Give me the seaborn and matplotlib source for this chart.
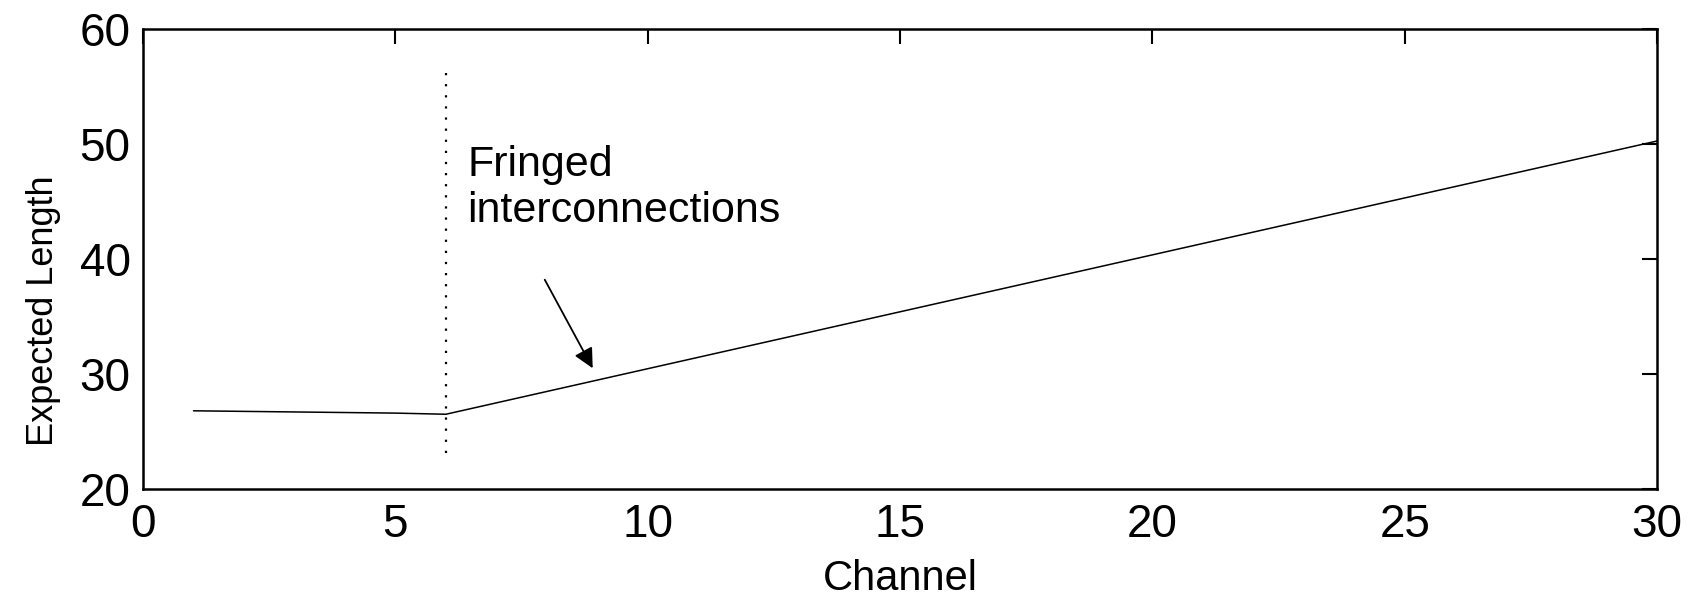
import matplotlib
matplotlib.use("Agg")
import matplotlib.pyplot as plt
import seaborn as sns
import pandas as pd

# Expected interconnection length per channel
channels = list(range(1, 31))
expected_length = [
    26.8, 26.75, 26.7, 26.65, 26.6, 26.5,
    27.49, 28.48, 29.47, 30.46, 31.45, 32.44, 33.43, 34.42, 35.41,
    36.40, 37.39, 38.38, 39.37, 40.36, 41.35, 42.34, 43.33, 44.32, 45.31,
    46.30, 47.29, 48.28, 49.27, 50.26,
]
boundary_channel = 6
x_ticks = [0, 5, 10, 15, 20, 25, 30]
y_ticks = [20, 30, 40, 50, 60]

sns.set_style("white")
plt.rcParams["font.family"] = ["Liberation Sans", "DejaVu Sans"]
plt.rcParams["text.color"] = "black"
plt.rcParams["axes.labelcolor"] = "black"

df = pd.DataFrame({"Channel": channels, "Expected Length": expected_length})

fig = plt.figure(figsize=(16.95, 5.97), dpi=100)
ax = fig.add_axes([0.0844, 0.1809, 0.8932, 0.7705])

sns.lineplot(data=df, x="Channel", y="Expected Length", ax=ax,
             color="black", linewidth=1.1)

# Boundary of the fringed region
ax.plot([boundary_channel, boundary_channel], [23.1, 56.6],
        color="black", linestyle=(0, (1, 4)), linewidth=1.6)

ax.annotate("", xy=(8.91, 30.5), xytext=(7.96, 38.2),
            arrowprops=dict(arrowstyle="-|>", color="black", lw=1.3,
                            mutation_scale=30, shrinkA=0, shrinkB=0))
ax.text(6.42, 43.2, "Fringed\ninterconnections", fontsize=31,
        ha="left", va="baseline", linespacing=1.2, color="black")

ax.set_xlim(0, 30)
ax.set_ylim(20, 60)
ax.set_xticks(x_ticks)
ax.set_yticks(y_ticks)
ax.tick_params(direction="in", length=11, width=1.5, labelsize=33,
               top=True, right=True, colors="black")
ax.tick_params(axis="x", pad=10)
ax.tick_params(axis="y", pad=9)
for sp in ax.spines.values():
    sp.set_linewidth(1.8)
    sp.set_color("black")

ax.set_xlabel("Channel", fontsize=30)
ax.set_ylabel("Expected Length", fontsize=26)
ax.xaxis.set_label_coords(0.5, -0.152)
ax.yaxis.set_label_coords(-0.054, 0.387)

fig.savefig("out.png", dpi=100, facecolor="white")
